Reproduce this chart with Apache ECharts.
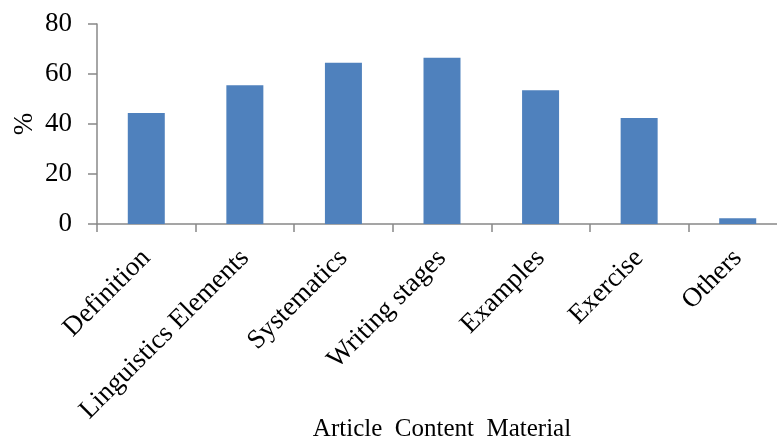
<!DOCTYPE html>
<html>
<head>
<meta charset="utf-8">
<script src="https://cdn.jsdelivr.net/npm/echarts@6/dist/echarts.min.js"></script>
<style>
html,body{margin:0;padding:0;background:#fff;}
#chart{width:777px;height:441px;}
</style>
</head>
<body>
<div id="chart"></div>
<script>
var categories = ['Definition', 'Linguistics Elements', 'Systematics', 'Writing stages', 'Examples', 'Exercise', 'Others'];
var percentValues = [44.4, 55.5, 64.5, 66.5, 53.5, 42.4, 2.3];
var yTicks = [0, 20, 40, 60, 80];

var serif = "'Liberation Serif', 'Times New Roman', serif";
var chart = echarts.init(document.getElementById('chart'), null, {renderer: 'canvas'});
chart.setOption({
  animation: false,
  backgroundColor: '#ffffff',
  grid: {left: 97, top: 24, width: 690, height: 200, containLabel: false, outerBoundsMode: 'none'},
  xAxis: {
    type: 'category',
    data: categories,
    name: 'Article  Content  Material',
    nameLocation: 'middle',
    nameGap: 193,
    nameMoveOverlap: false,
    nameTextStyle: {fontFamily: serif, fontSize: 25, color: '#000'},
    axisLine: {lineStyle: {color: '#888888', width: 1.5}},
    axisTick: {show: true, length: 8, lineStyle: {color: '#888888', width: 1.5}},
    axisLabel: {rotate: 45, margin: 30, fontFamily: serif, fontSize: 27, color: '#000', interval: 0}
  },
  yAxis: {
    type: 'value',
    min: yTicks[0],
    max: yTicks[yTicks.length - 1],
    interval: yTicks[1] - yTicks[0],
    name: '%',
    nameLocation: 'middle',
    nameGap: 59,
    nameMoveOverlap: false,
    nameTextStyle: {fontFamily: serif, fontSize: 27, color: '#000'},
    axisLine: {show: true, lineStyle: {color: '#888888', width: 1.5}},
    axisTick: {show: true, length: 9, lineStyle: {color: '#888888', width: 1.5}},
    axisLabel: {margin: 25, fontFamily: serif, fontSize: 27, color: '#000'},
    splitLine: {show: false}
  },
  series: [{
    type: 'bar',
    data: percentValues,
    barWidth: 37,
    itemStyle: {color: '#4F81BD'}
  }]
});
</script>
</body>
</html>
